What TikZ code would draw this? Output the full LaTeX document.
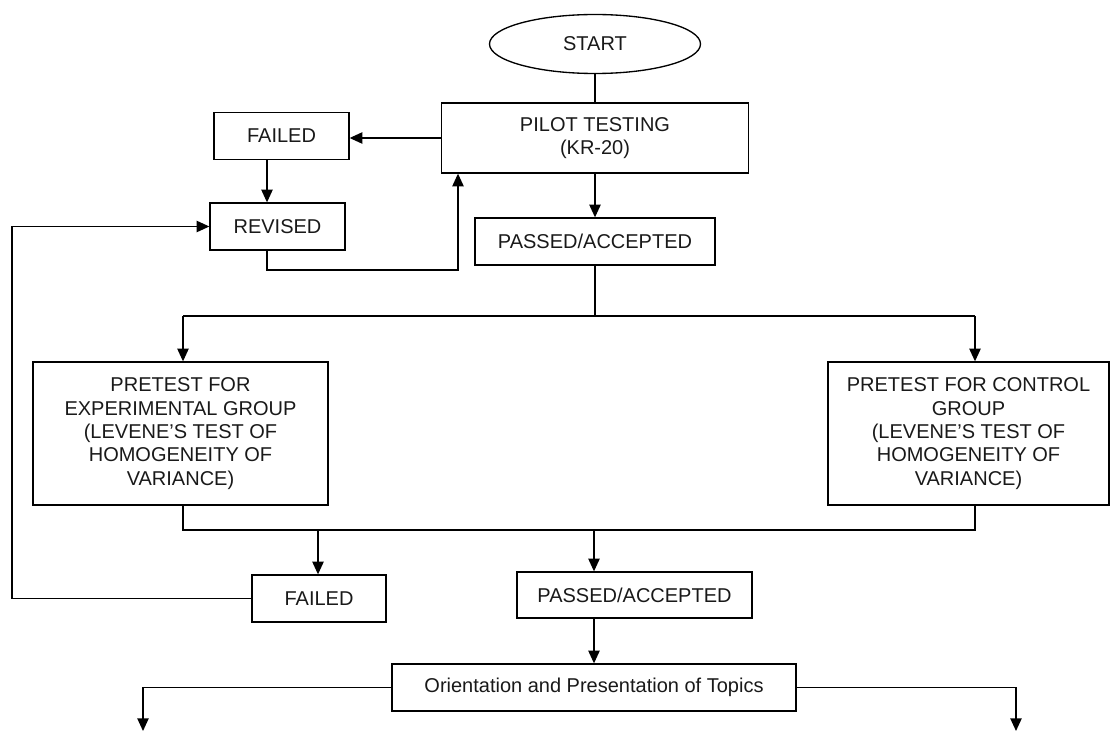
\documentclass[tikz,border=0pt]{standalone}
\usepackage{fontspec}
\setmainfont{Liberation Sans}
\usetikzlibrary{shapes.geometric,arrows.meta}

\begin{document}
\begin{tikzpicture}[x=0.75pt,y=-0.75pt,
  every node/.style={font=\fontsize{15}{17.5}\selectfont, text=black!90, align=center, inner sep=0pt},
  box/.style 2 args={draw, line width=1pt, rectangle, minimum width=#1*0.75pt, minimum height=#2*0.75pt},
  oval/.style 2 args={draw, line width=1pt, ellipse, minimum width=#1*0.75pt, minimum height=#2*0.75pt},
  link/.style={line width=1pt},
  arr/.style={line width=1pt, -{Triangle[length=9.5pt,width=8.5pt]}}]
\useasboundingbox (0,0) rectangle (1111,731);

% boxes
\node[oval={211}{59}]  (start)   at (595,44)     {START};
\node[box={307}{70}]   (pilot)   at (595,138)    {PILOT TESTING\\(KR-20)};
\node[box={135}{47}]   (failedA) at (281.5,136)  {FAILED};
\node[box={135}{47}]   (revised) at (277.5,226.5){REVISED};
\node[box={240}{47}]   (passedA) at (595,241.5)  {PASSED/ACCEPTED};
\node[box={295}{143}]  (exp)     at (180.5,433.5){PRETEST FOR\\EXPERIMENTAL GROUP\\(LEVENE’S TEST OF\\HOMOGENEITY OF\\VARIANCE)};
\node[box={281}{143}]  (ctrl)    at (968.5,433.5){PRETEST FOR CONTROL\\GROUP\\(LEVENE’S TEST OF\\HOMOGENEITY OF\\VARIANCE)};
\node[box={134}{47}]   (failedB) at (319,598.5)  {FAILED};
\node[box={235}{46}]   (passedB) at (634.5,595)  {PASSED/ACCEPTED};
\node[box={404}{47}]   (orient)  at (594,687.5)  {Orientation and Presentation of Topics};

% routing points
\coordinate (fr)  at (267,0);
\coordinate (rb)  at (458,270);
\coordinate (bl)  at (183,316);
\coordinate (br)  at (975,316);
\coordinate (ml)  at (183,530);
\coordinate (mr)  at (975,530);
\coordinate (mf)  at (318,530);
\coordinate (mp)  at (594,530);
\coordinate (lp)  at (12,400);
\coordinate (ol)  at (143,731);
\coordinate (orr) at (1016,731);

% top part
\draw[link] (start.south) -- (start.south |- pilot.north);
\draw[arr]  (pilot.west) -- (failedA.east |- pilot.west);
\draw[arr]  (failedA.south -| fr) -- (revised.north -| fr);
\draw[arr]  (revised.south -| fr) |- (rb) -- (rb |- pilot.south);
\draw[arr]  (pilot.south) -- (pilot.south |- passedA.north);

% split to the two pretests
\draw[link] (passedA.south) -- (passedA.south |- bl);
\draw[link] (bl) -- (br);
\draw[arr]  (bl) -- (bl |- exp.north);
\draw[arr]  (br) -- (br |- ctrl.north);

% merge of the pretests
\draw[link] (exp.south -| ml) -- (ml) -- (mr) -- (ctrl.south -| mr);
\draw[arr]  (mf) -- (mf |- failedB.north);
\draw[arr]  (mp) -- (mp |- passedB.north);

% loop back to revision
\draw[arr]  (failedB.west) -| (lp) |- (revised.west);

% orientation
\draw[arr]  (passedB.south -| orient.north) -- (orient.north);
\draw[arr]  (orient.west) -| (ol);
\draw[arr]  (orient.east) -| (orr);
\end{tikzpicture}
\end{document}
